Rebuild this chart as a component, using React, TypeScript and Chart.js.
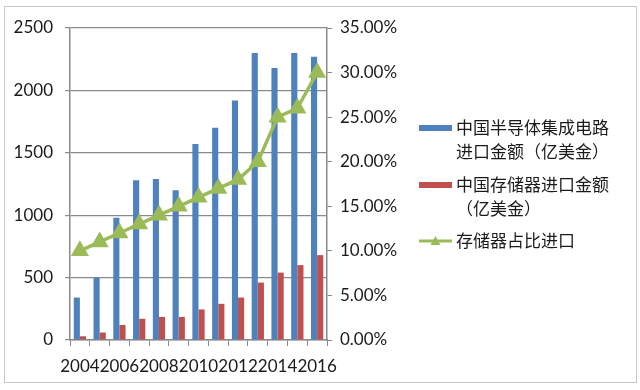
import React, { useEffect, useRef } from "react";
import { Chart, registerables } from "chart.js";

Chart.register(...registerables);

const years = ["2004", "2005", "2006", "2007", "2008", "2009", "2010", "2011", "2012", "2013", "2014", "2015", "2016"];
const icImports = [340, 500, 980, 1280, 1290, 1200, 1570, 1700, 1920, 2300, 2180, 2300, 2270];
const memImports = [30, 60, 120, 170, 185, 185, 245, 290, 340, 460, 540, 600, 680];
const memShare = [10, 11, 12, 13, 14, 15, 16, 17, 18, 20, 25, 26, 30];
const seriesNames = ["中国半导体集成电路进口金额（亿美金）", "中国存储器进口金额（亿美金）", "存储器占比进口"];
const legendLines = [["中国半导体集成电路", "进口金额（亿美金）"], ["中国存储器进口金额", "（亿美金）"], ["存储器占比进口"]];

const BLUE = "#4F81BD";
const RED = "#C0504D";
const GREEN = "#9BBB59";
const AXIS = "#8a8a8a";
const TEXT = "#1a1a1a";
const TICK_FONT = { family: "Lato, 'Open Sans', sans-serif", size: 17 };

const framePlugin = {
  id: "frameAndLegend",
  beforeDraw(chart: any) {
    const ctx = chart.ctx;
    ctx.save();
    ctx.fillStyle = "#fff";
    ctx.fillRect(0, 0, chart.width, chart.height);
    ctx.strokeStyle = "#c8c8c8";
    ctx.lineWidth = 1;
    ctx.strokeRect(4.5, 6.5, 632, 376);
    ctx.restore();
  },
  afterDraw(chart: any) {
    const ctx = chart.ctx;
    ctx.save();
    const sx = 419, sw = 33, tx = 456;
    const rows = [
      { y: 128, color: BLUE, kind: "bar" },
      { y: 185, color: RED, kind: "bar" },
      { y: 241, color: GREEN, kind: "line" },
    ];
    ctx.font = "17px 'Noto Sans CJK SC', sans-serif";
    ctx.textBaseline = "middle";
    rows.forEach((r, i) => {
      if (r.kind === "bar") {
        ctx.fillStyle = r.color;
        ctx.fillRect(sx, r.y - 3, sw, 6);
      } else {
        ctx.strokeStyle = r.color;
        ctx.lineWidth = 3;
        ctx.beginPath();
        ctx.moveTo(sx, r.y);
        ctx.lineTo(sx + sw, r.y);
        ctx.stroke();
        ctx.fillStyle = r.color;
        ctx.beginPath();
        const cx = sx + sw / 2;
        ctx.moveTo(cx, r.y - 5);
        ctx.lineTo(cx + 5, r.y + 4);
        ctx.lineTo(cx - 5, r.y + 4);
        ctx.closePath();
        ctx.fill();
      }
      ctx.fillStyle = TEXT;
      legendLines[i].forEach((line, j) => {
        ctx.fillText(line, tx, r.y + j * 24);
      });
    });
    ctx.restore();
  },
};

export default function App() {
  const ref = useRef<HTMLCanvasElement>(null);
  useEffect(() => {
    document.body.style.margin = "0";
    const chart = new Chart(ref.current!, {
      type: "bar",
      data: {
        labels: years,
        datasets: [
          {
            type: "line",
            label: seriesNames[2],
            data: memShare,
            yAxisID: "y1",
            borderColor: GREEN,
            backgroundColor: GREEN,
            borderWidth: 3.5,
            pointStyle: "triangle",
            pointRadius: 7,
            pointBackgroundColor: GREEN,
            pointBorderColor: GREEN,
            tension: 0,
            order: 0,
          } as any,
          {
            type: "bar",
            label: seriesNames[0],
            data: icImports,
            yAxisID: "y",
            backgroundColor: BLUE,
            categoryPercentage: 0.62,
            barPercentage: 1.0,
            order: 1,
          },
          {
            type: "bar",
            label: seriesNames[1],
            data: memImports,
            yAxisID: "y",
            backgroundColor: RED,
            categoryPercentage: 0.62,
            barPercentage: 1.0,
            order: 1,
          },
        ],
      },
      options: {
        responsive: false,
        animation: false,
        layout: { padding: { left: 0, right: 233, top: 28, bottom: 18 } },
        plugins: { legend: { display: false }, tooltip: { enabled: false } },
        scales: {
          x: {
            offset: true,
            grid: { display: true, drawOnChartArea: false, drawTicks: true, tickLength: 6, color: AXIS, offset: true },
            border: { color: AXIS, width: 1.5 },
            ticks: {
              autoSkip: false,
              maxRotation: 0,
              minRotation: 0,
              padding: 10,
              color: TEXT,
              font: TICK_FONT,
              callback: (_v: any, i: number) => (i % 2 === 0 ? years[i] : ""),
            },
            afterFit: (s: any) => { s.height = 32; },
          },
          y: {
            position: "left",
            min: 0,
            max: 2500,
            ticks: { stepSize: 500, padding: 12, color: TEXT, font: TICK_FONT, callback: (v: any) => String(v) },
            grid: { color: AXIS, lineWidth: 1.2, tickLength: 5 },
            border: { color: AXIS, width: 1.5 },
            afterFit: (s: any) => { s.width = 70; },
          },
          y1: {
            position: "right",
            min: 0,
            max: 35,
            ticks: {
              stepSize: 5,
              padding: 8,
              color: TEXT,
              font: TICK_FONT,
              callback: (v: any) => Number(v).toFixed(2) + "%",
            },
            grid: { drawOnChartArea: false, color: AXIS, tickLength: 5 },
            border: { color: AXIS, width: 1.5 },
            afterFit: (s: any) => { s.width = 80; },
          },
        },
      },
      plugins: [framePlugin],
    });
    return () => chart.destroy();
  }, []);
  return (
    <div style={{ position: "absolute", left: 0, top: 0, width: 640, height: 390 }}>
      <canvas ref={ref} width={640} height={390} style={{ display: "block" }} />
    </div>
  );
}
